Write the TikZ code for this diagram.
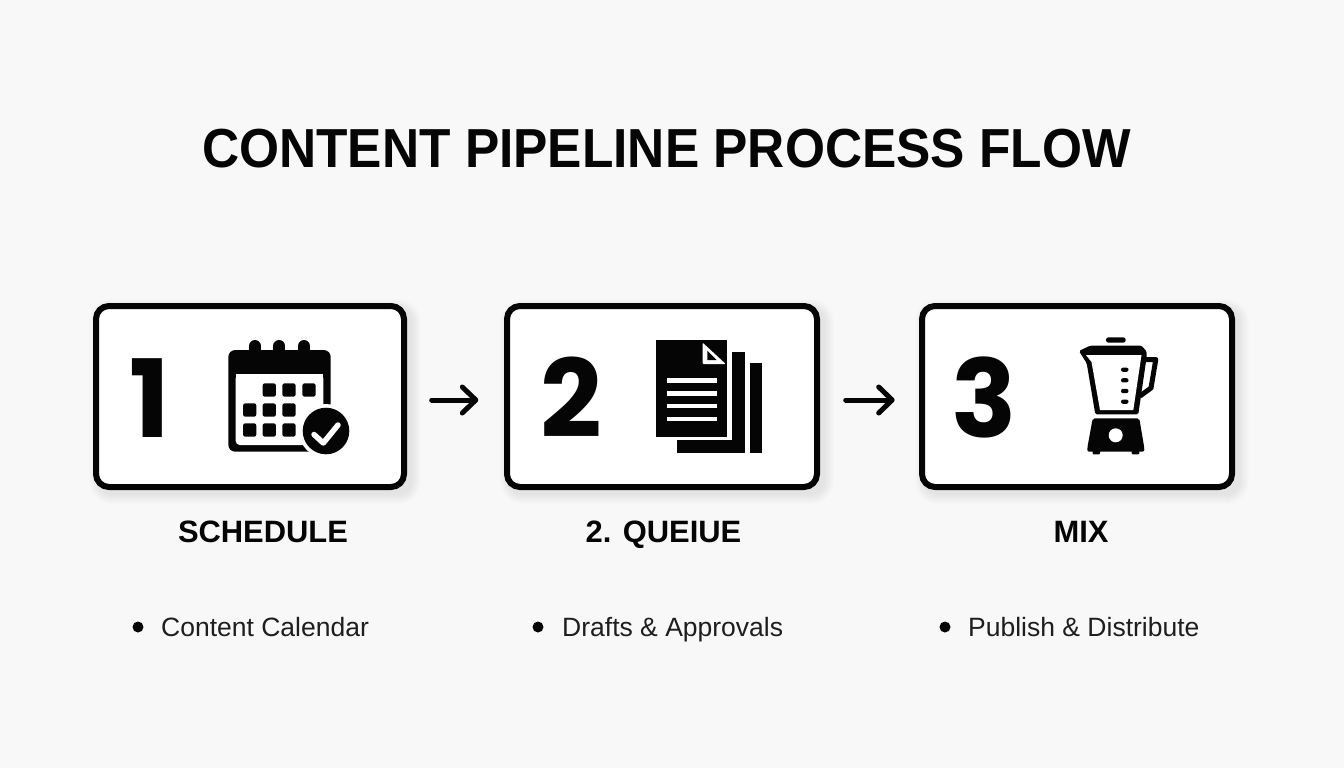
\documentclass[tikz,border=0pt]{standalone}
\usepackage{fontspec}
\setmainfont{Liberation Sans}
\newfontfamily\digitfont{Poppins}
\newfontfamily\titlefont[FakeStretch=0.935]{Liberation Sans Bold}
\usetikzlibrary{arrows.meta,calc}
\definecolor{pagebg}{HTML}{F8F8F8}
\definecolor{ink}{HTML}{050505}
\newcommand{\softshadow}[4]{%
  \foreach \g in {0,1,...,9}{
    \fill[black,opacity=.007,rounded corners={14+\g}]
      ({#1+5-\g},{#2+5-\g}) rectangle ({#3+5+\g},{#4+5+\g});
  }}
\tikzset{
  panel/.style={draw=ink,fill=white,line width=6,rounded corners=13,minimum height=181,outer sep=0,inner sep=0},
  flow/.style={draw=ink,line width=5,line cap=round,-{Straight Barb[length=13.5,width=26,round,line width=5]}},
  digit/.style={anchor=base,inner sep=0,text=ink,font=\digitfont\bfseries\fontsize{108}{108}\selectfont},
  titletext/.style={anchor=base,inner sep=0,text=ink,font=\titlefont\fontsize{55}{60}\selectfont},
  steplabel/.style={anchor=base,inner sep=0,text=ink,font=\bfseries\fontsize{30.9}{34}\selectfont},
  itemtext/.style={anchor=base west,inner sep=0,text=ink!90,font=\fontsize{26.5}{30}\selectfont},
  dotmark/.style={circle,fill=ink,inner sep=0,minimum size=11,outer sep=0},
  solid ink/.style={fill=ink,draw=none},
  white part/.style={fill=white,draw=none}
}
\begin{document}
\begin{tikzpicture}[x=1pt,y=-1pt]
\fill[pagebg] (0,0) rectangle (1344,768);
\useasboundingbox (0,0) rectangle (1344,768);
\node[titletext] (title) at (666.5,167.5) {CONTENT PIPELINE PROCESS FLOW};
% shadows
\softshadow{93}{303}{407}{490}
\softshadow{504}{303}{820}{490}
\softshadow{919}{303}{1235}{490}
% panels
\node[panel,minimum width=308] (p1) at (250,396.5) {};
\node[panel,minimum width=310] (p2) at (662,396.5) {};
\node[panel,minimum width=310] (p3) at (1077,396.5) {};
% connectors
\draw[flow] ($(p1.east)+(27.7,3.5)$) -- ($(p2.west)+(-28.7,3.5)$);
\draw[flow] ($(p2.east)+(28.7,3.5)$) -- ($(p3.west)+(-27.3,3.5)$);
% digits
\node[digit] (d1) at (149.5,437) {1};
\node[digit] (d2) at (571,437) {2};
\node[digit] (d3) at (984.5,437) {3};
% calendar
\fill[solid ink,rounded corners=7] (228.3,350) rectangle (330.7,451.7);
\fill[white part,rounded corners=4] (235.7,374.3) rectangle (323.3,445);
\fill[white part] (235.7,374.3) rectangle (323.3,385);
\foreach \rx in {255,279.3,304}{
  \draw[ink,line width=12,line cap=round] (\rx,346) -- (\rx,352);
}
\foreach \sx/\sy in {269.3/390,289/390,309/390,249.7/410,269.3/410,289/410,249.7/430,269.3/430,289/430}{
  \fill[solid ink,rounded corners=2] ({\sx-6.6},{\sy-6.6}) rectangle ({\sx+6.6},{\sy+6.6});
}
\fill[white part] (326,431) circle (27);
\fill[solid ink] (326,431) circle (23.3);
\draw[white,line width=5.5,line cap=round,line join=round] (314,434.5) -- (323.3,443) -- (338,425);
% documents
\fill[solid ink] (750,363.3) rectangle (762.3,452.7);
\fill[solid ink] (732.3,351.7) rectangle (745,452.7);
\fill[solid ink] (677.3,440) rectangle (745,452.7);
\fill[solid ink] (655.7,340) rectangle (727.3,436.7);
\fill[white part,rounded corners=1] (702.7,342.7) -- (725.7,364) -- (702.7,364) -- cycle;
\fill[solid ink] (707.3,350.7) -- (716.7,360) -- (707.3,360) -- cycle;
\foreach \ly in {380.3,393.3,406,419}{
  \fill[white part] (666.7,{\ly-2.4}) rectangle (716.7,{\ly+2.4});
}
% blender
\fill[solid ink,rounded corners=2.5] (1106,337.3) rectangle (1125.7,342.7);
\draw[ink,line width=5,line join=round] (1145,359.5) -- (1155.8,359.5) -- (1151,388) -- (1140,396);
\fill[solid ink,rounded corners=1.5] (1079,351) -- (1090,345.7) -- (1141.7,345.7) -- (1146.7,351.7) -- (1146.7,356.7) -- (1138.3,414.3) -- (1095.3,414.3) -- (1086.7,363.3) -- cycle;
\fill[white part] (1086,355) -- (1141.5,355) -- (1133.3,410) -- (1100,410) -- (1091.5,362) -- cycle;
\foreach \ty in {369.7,380.3,391,401.7}{
  \fill[solid ink,rounded corners=2] (1121,{\ty-2.1}) rectangle (1128.5,{\ty+2.1});
}
\fill[solid ink,rounded corners=2] (1092.7,418.3) -- (1139.3,418.3) -- (1144.3,448) -- (1144.3,451.7) -- (1087.3,451.7) -- (1087.3,448) -- cycle;
\fill[solid ink,rounded corners=1] (1092.7,450) rectangle (1100,454.3);
\fill[solid ink,rounded corners=1] (1131.7,450) rectangle (1139.3,454.3);
\fill[white part] (1115.7,435.3) circle (7);
% labels
\node[steplabel] (l1) at (263,542.5) {SCHEDULE};
\node[steplabel] (l2) at (663.5,542.5) {2. QUEIUE};
\node[steplabel] (l3) at (1081,542.5) {MIX};
% bullets
\node[dotmark] (b1) at (138,627) {};
\node[itemtext] (t1) at (161,636) {Content Calendar};
\node[dotmark] (b2) at (538,627) {};
\node[itemtext] (t2) at (562,636) {Drafts \& Approvals};
\node[dotmark] (b3) at (945,627) {};
\node[itemtext] (t3) at (968,636) {Publish \& Distribute};
\end{tikzpicture}
\end{document}
